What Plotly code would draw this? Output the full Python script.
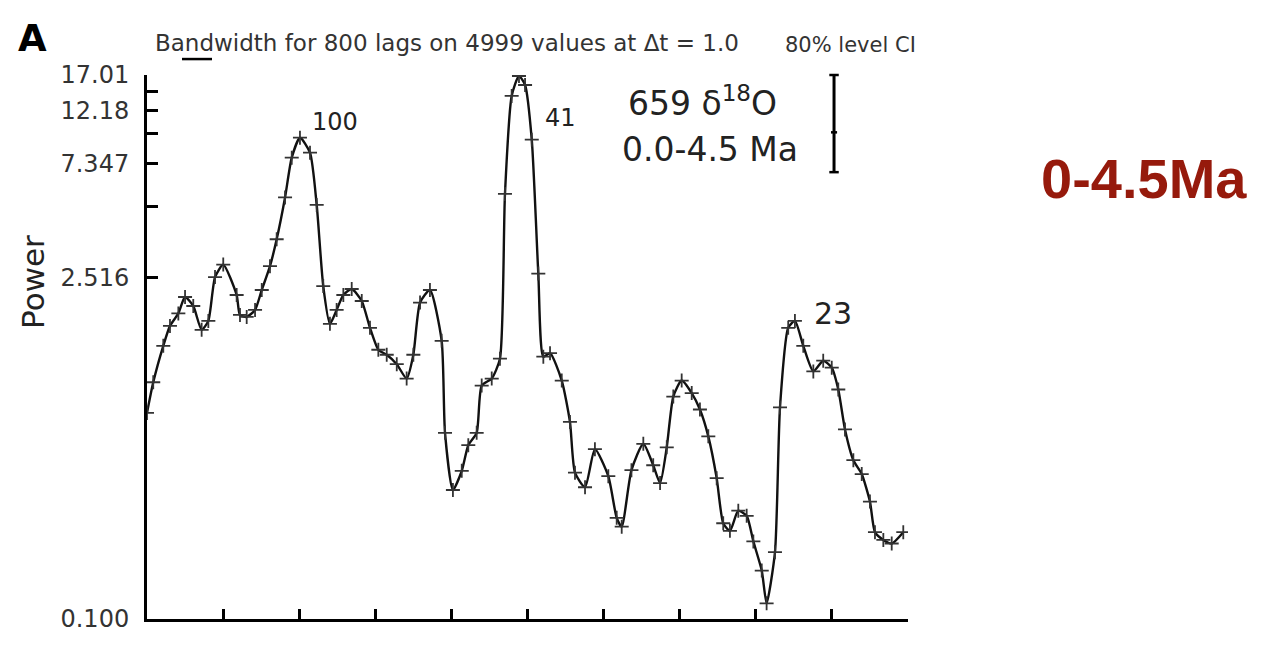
import plotly.graph_objects as go
import math

# Frequency (cycles/kyr) and power
freq = [0.0, 0.00041, 0.00107, 0.00151, 0.00206, 0.00250, 0.00304, 0.00359, 0.00403, 0.00447,
        0.00501, 0.00589, 0.00611, 0.00655, 0.00710, 0.00754, 0.00808, 0.00852, 0.00907, 0.00951,
        0.01005, 0.01071, 0.01115, 0.01158, 0.01202, 0.01246, 0.01290, 0.01345, 0.01411, 0.01465,
        0.01520, 0.01575, 0.01641, 0.01706, 0.01750, 0.01794, 0.01859, 0.01936, 0.01958, 0.02010,
        0.02068, 0.02111, 0.02166, 0.02199, 0.02265, 0.02319, 0.02352, 0.02396, 0.02444,
        0.02484, 0.02528, 0.02571, 0.02604, 0.02648, 0.02725, 0.02779, 0.02812, 0.02878, 0.02943,
        0.03031, 0.03086, 0.03119, 0.03183, 0.03261, 0.03326, 0.03371, 0.03415, 0.03458,
        0.03513, 0.03579, 0.03633, 0.03688, 0.03743, 0.03786, 0.03830, 0.03885, 0.03940, 0.03984,
        0.04039, 0.04071, 0.04126, 0.04159, 0.04213, 0.04257, 0.04312, 0.04378, 0.04443, 0.04499,
        0.04542, 0.04586, 0.04641, 0.04696, 0.04750, 0.04783, 0.04838, 0.04893, 0.04969]

power = [0.700, 0.935, 1.319, 1.592, 1.791, 2.091, 1.921, 1.534, 1.669, 2.523,
         2.839, 2.131, 1.765, 1.733, 1.851, 2.234, 2.798, 3.607, 5.354, 7.796,
         9.408, 8.171, 4.989, 2.319, 1.623, 1.851, 2.131, 2.255, 2.014, 1.563,
         1.271, 1.212, 1.109, 0.968, 1.212, 1.984, 2.234, 1.383, 0.580, 0.338,
         0.405, 0.516, 0.580, 0.906, 0.968, 1.168, 5.533, 13.96, 16.85,
         15.48, 9.234, 2.608, 1.190, 1.230, 0.950, 0.643, 0.398, 0.347, 0.497,
         0.385, 0.260, 0.239, 0.4075, 0.523, 0.427, 0.361, 0.506, 0.817,
         0.950, 0.844, 0.723, 0.561, 0.378, 0.247, 0.230, 0.278, 0.265, 0.208,
         0.158, 0.116, 0.188, 0.737, 1.563, 1.669, 1.319, 1.036, 1.146, 1.073,
         0.873, 0.599, 0.448, 0.393, 0.303, 0.227, 0.211, 0.204, 0.227]

y_tickvals = [0.100, 2.516, 7.347, 12.18, 17.01]
y_ticktext = ["0.100", "2.516", "7.347", "12.18", "17.01"]
y_minorvals = [4.932, 9.763, 14.59]
x_tickvals = [0.0, 0.005, 0.010, 0.015, 0.020, 0.025, 0.030, 0.035, 0.040, 0.045, 0.050]

FONT = "DejaVu Sans"
TXT = "#222222"

fig = go.Figure()
fig.add_trace(go.Scatter(
    x=freq, y=power, mode="lines+markers",
    line=dict(color="#111111", width=2.4, shape="spline", smoothing=0.6),
    marker=dict(symbol="cross-thin", size=10, line=dict(color="#333333", width=1.8)),
    showlegend=False, hoverinfo="x+y"))

ann = []
def txt(x, y, s, size, color=TXT, family=FONT, **kw):
    ann.append(dict(xref="paper", yref="paper", x=x, y=y, text=s, showarrow=False,
                    xanchor="center", yanchor="middle",
                    font=dict(size=size, color=color, family=family), **kw))

txt(-0.1511, 1.0676, "<b>A</b>", 37, color="#000000")
txt(0.3942, 1.0585, "Bandwidth for 800 lags on 4999 values at \u0394t = 1.0", 23, color="#333333")
txt(0.9238, 1.0548, "80% level CI", 21, color="#333333")
txt(0.7306, 0.9506, "659 \u03b4<sup>18</sup>O", 33)
txt(0.7398, 0.8638, "0.0-4.5 Ma", 33)
txt(0.247, 0.9141, "100", 24)
txt(0.544, 0.9214, "41", 24)
txt(0.9014, 0.5612, "23", 30)
txt(-0.1498, 0.6197, "Power", 31, textangle=-90)
txt(1.3101, 0.8099, "<b>0-4.5Ma</b>", 56, color="#961a0c", family="Liberation Sans")

shapes = []
# bandwidth bar
shapes.append(dict(type="line", xref="paper", yref="paper", x0=0.046, x1=0.0854,
                   y0=1.0293, y1=1.0293, line=dict(color="#000000", width=2.5)))
# 80% CI bar
cx = 0.9028
shapes.append(dict(type="line", xref="paper", yref="paper", x0=cx, x1=cx, y0=1.0, y1=0.8214,
                   line=dict(color="#000000", width=3)))
for yy, hw in [(1.0, 0.0062), (0.8214, 0.0062), (0.8946, 0.004)]:
    shapes.append(dict(type="line", xref="paper", yref="paper", x0=cx - hw, x1=cx + hw,
                       y0=yy, y1=yy, line=dict(color="#000000", width=2.5)))

fig.update_layout(
    width=1261, height=645,
    margin=dict(l=147, r=353, t=75, b=23, pad=0),
    paper_bgcolor="white", plot_bgcolor="white",
    annotations=ann, shapes=shapes,
    xaxis=dict(range=[0, 0.05], tickmode="array", tickvals=x_tickvals, showticklabels=False,
               ticks="inside", ticklen=10, tickwidth=2.5, tickcolor="#000000",
               showline=True, linewidth=3, linecolor="#000000",
               showgrid=False, zeroline=False, fixedrange=True),
    yaxis=dict(type="log", range=[-1, math.log10(17.01)],
               tickmode="array", tickvals=y_tickvals, ticktext=y_ticktext,
               ticks="inside", ticklen=11, tickwidth=2.5, tickcolor="#000000",
               minor=dict(tickmode="array", tickvals=y_minorvals, ticks="inside",
                          ticklen=11, tickwidth=2.5, tickcolor="#000000", showgrid=False),
               showline=True, linewidth=3, linecolor="#000000",
               showgrid=False, zeroline=False, fixedrange=True,
               tickfont=dict(family=FONT, size=24, color="#333333"),
               ticklabelstandoff=10),
)

fig.write_html("out.html")
